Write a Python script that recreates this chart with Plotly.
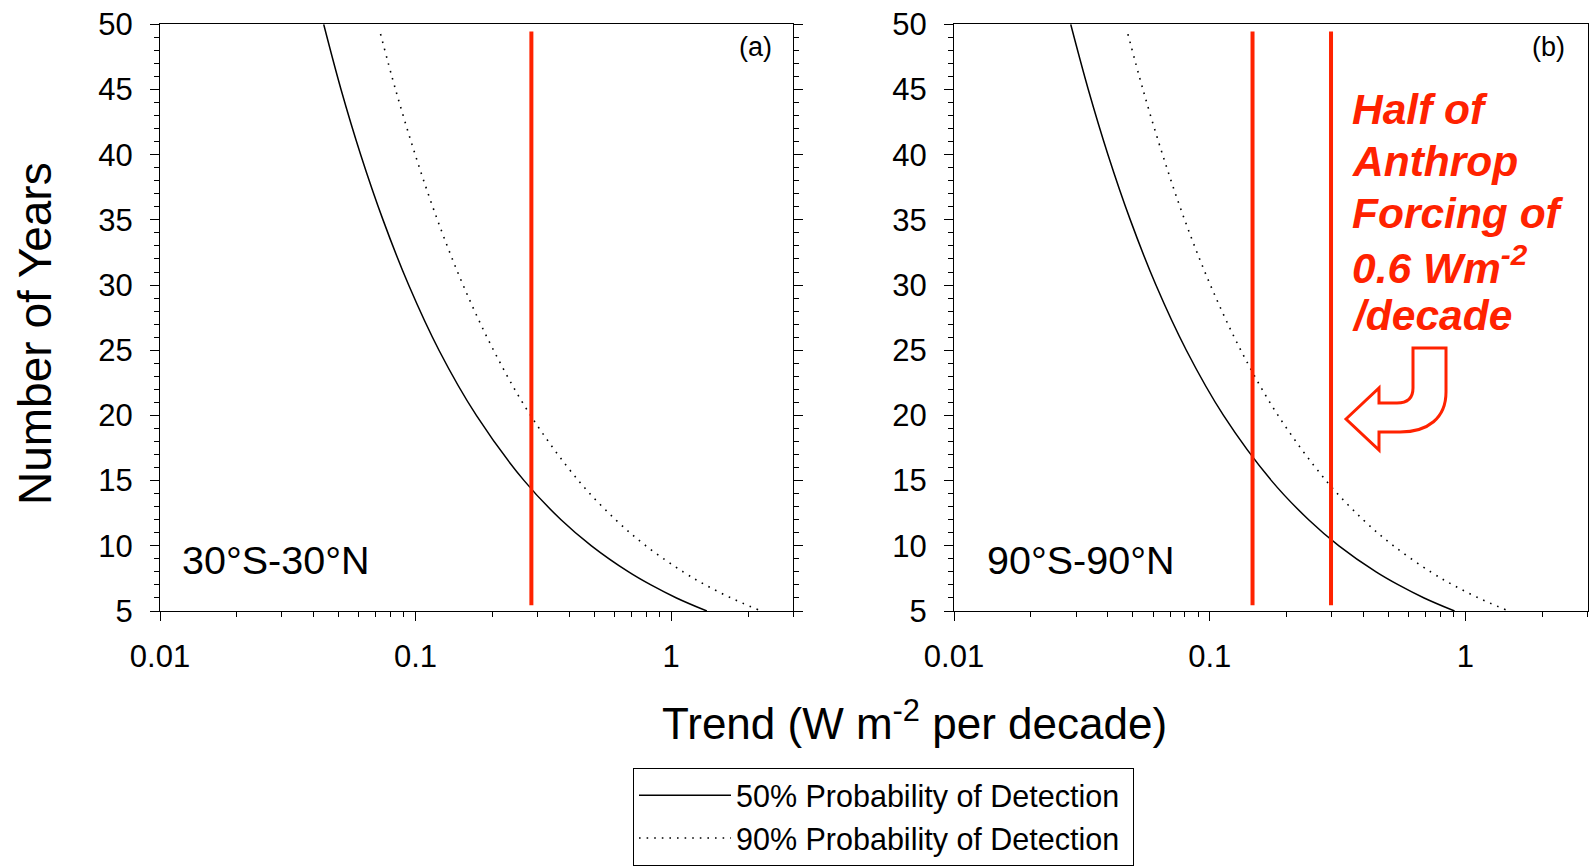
import plotly.graph_objects as go

W, H = 1589, 867
FONT = "Liberation Sans, Arial, sans-serif"
RED = "#FF2200"

# ---- data ----
years_50_a = [5, 6, 7, 8, 10, 12, 15, 20, 25, 30, 35, 40, 45, 50]
trend_50_a = [1.38, 1.05, 0.834, 0.682, 0.488, 0.371, 0.266, 0.173, 0.1235, 0.094, 0.0746, 0.061, 0.0511, 0.0437]
years_90_a = [5.1, 6, 7, 8, 10, 12, 15, 20, 25, 30, 35, 40, 45, 49.5]
trend_90_a = [2.19, 1.716, 1.362, 1.115, 0.797, 0.607, 0.434, 0.282, 0.202, 0.1535, 0.1218, 0.0997, 0.0835, 0.0724]

years_50_b = [5, 6, 7, 8, 10, 12, 15, 20, 25, 30, 35, 40, 45, 50]
trend_50_b = [0.906, 0.689, 0.547, 0.447, 0.320, 0.2436, 0.1743, 0.1132, 0.081, 0.0616, 0.0489, 0.040, 0.0335, 0.0286]
years_90_b = [5.1, 6, 7, 8, 10, 12, 15, 20, 25, 30, 35, 40, 45, 49.5]
trend_90_b = [1.435, 1.125, 0.893, 0.731, 0.523, 0.398, 0.285, 0.185, 0.1323, 0.1006, 0.0798, 0.0654, 0.0548, 0.0475]

vlines_a = [0.284]
vlines_b = [0.147, 0.298]
vline_span = [5.45, 49.45]

x_major = [0.01, 0.1, 1]
x_major_text = ["0.01", "0.1", "1"]
x_minor = [0.02, 0.03, 0.04, 0.05, 0.06, 0.07, 0.08, 0.09,
           0.2, 0.3, 0.4, 0.5, 0.6, 0.7, 0.8, 0.9, 2, 3]
y_major = [5, 10, 15, 20, 25, 30, 35, 40, 45, 50]

series_names = ["50% Probability of Detection", "90% Probability of Detection"]
red_lines = ["Half of", "Anthrop", "Forcing of", "0.6 Wm<sup>-2</sup>", "/decade"]

fig = go.Figure()

def add_panel(xa, ya, t50, y50, t90, y90, vls, legend):
    fig.add_trace(go.Scatter(x=t50, y=y50, mode="lines", xaxis=xa, yaxis=ya,
                             line=dict(color="black", width=1.5, shape="spline"),
                             name=series_names[0] + "\u00a0", showlegend=legend))
    fig.add_trace(go.Scatter(x=t90, y=y90, mode="lines", xaxis=xa, yaxis=ya,
                             line=dict(color="black", width=1.6, dash="1.6px,6px", shape="spline"),
                             name=series_names[1] + "\u00a0", showlegend=legend))
    for v in vls:
        fig.add_trace(go.Scatter(x=[v, v], y=vline_span, mode="lines", xaxis=xa, yaxis=ya,
                                 line=dict(color=RED, width=4), showlegend=False, hoverinfo="skip"))

add_panel("x", "y", trend_50_a, years_50_a, trend_90_a, years_90_a, vlines_a, True)
add_panel("x2", "y2", trend_50_b, years_50_b, trend_90_b, years_90_b, vlines_b, False)

def px_x(p):
    return p / W

def px_y(p):
    return 1 - p / H

ydom = [px_y(611), px_y(24.3)]

def xaxis_cfg(dom, anchor):
    return dict(type="log", range=[-2, 0.4771], domain=dom, anchor=anchor,
                tickmode="array", tickvals=x_major, ticktext=x_major_text,
                ticks="outside", ticklen=9, tickwidth=1, tickcolor="black",
                minor=dict(tickmode="array", tickvals=x_minor, ticks="outside",
                           ticklen=5, tickwidth=1, tickcolor="black", showgrid=False),
                showline=True, linecolor="black", linewidth=1.2, mirror=True,
                showgrid=False, zeroline=False, automargin=False,
                tickfont=dict(family=FONT, size=31, color="black"),
                ticklabelstandoff=9)

def yaxis_cfg(anchor):
    return dict(range=[5, 50], domain=ydom, anchor=anchor,
                tickmode="array", tickvals=y_major,
                ticks="outside", ticklen=9, tickwidth=1, tickcolor="black",
                minor=dict(dtick=1, ticks="outside", ticklen=5, tickwidth=1,
                           tickcolor="black", showgrid=False),
                showline=True, linecolor="black", linewidth=1.2, mirror="ticks",
                showgrid=False, zeroline=False, automargin=False,
                tickfont=dict(family=FONT, size=31, color="black"),
                ticklabelstandoff=11)

fig.update_layout(
    width=W, height=H,
    margin=dict(l=0, r=0, t=0, b=0),
    paper_bgcolor="white", plot_bgcolor="white",
    xaxis=xaxis_cfg([px_x(160), px_x(793)], "y"),
    yaxis=yaxis_cfg("x"),
    xaxis2=xaxis_cfg([px_x(954), px_x(1587.5)], "y2"),
    yaxis2=yaxis_cfg("x2"),
    showlegend=True,
    legend=dict(x=px_x(633), y=px_y(768), xanchor="left", yanchor="top",
                bordercolor="black", borderwidth=1, bgcolor="white",
                font=dict(family=FONT, size=30.5, color="black"),
                itemwidth=92, tracegroupgap=0),
    font=dict(family=FONT, color="black"),
)

def A(text, x, y, size, color="black", xanchor="center", yanchor="middle", **kw):
    return dict(text=text, x=px_x(x), y=px_y(y), xref="paper", yref="paper",
                xanchor=xanchor, yanchor=yanchor, showarrow=False,
                font=dict(family=FONT, size=size, color=color), **kw)

ann = []
ann.append(A("Number of Years", 35, 334, 46, textangle=-90))
ann.append(A("Trend (W m<sup>-2</sup> per decade)", 914, 720, 44))
ann.append(A("(a)", 755, 46.6, 27))
ann.append(A("(b)", 1548, 46.6, 27))
ann.append(A("30°S-30°N", 180, 560, 39.5, xanchor="left"))
ann.append(A("90°S-90°N", 985, 560, 39.5, xanchor="left"))
red_y = [109.5, 162, 213, 265.5, 316]
for s, yy in zip(red_lines, red_y):
    ann.append(A("<b><i>%s</i></b>" % s, 1350, yy, 42.5, color=RED, xanchor="left"))
fig.update_layout(annotations=ann)

# curved outline arrow (pixel coordinates converted to paper)
pts = [
    ("M", [(1346, 419)]),
    ("L", [(1379, 388)]),
    ("L", [(1379, 403)]),
    ("L", [(1397, 403)]),
    ("C", [(1408, 403), (1413, 398), (1413, 388)]),
    ("L", [(1413, 348)]),
    ("L", [(1446, 348)]),
    ("L", [(1446, 392)]),
    ("C", [(1446, 418), (1428, 432), (1400, 432)]),
    ("L", [(1379, 432)]),
    ("L", [(1379, 450)]),
]
path = ""
for cmd, ps in pts:
    path += cmd + " " + " ".join("%.5f,%.5f" % (px_x(a), px_y(b)) for a, b in ps) + " "
path += "Z"
fig.add_shape(type="path", path=path, xref="paper", yref="paper",
              line=dict(color=RED, width=3), fillcolor="white")

fig.write_html("out.html")
